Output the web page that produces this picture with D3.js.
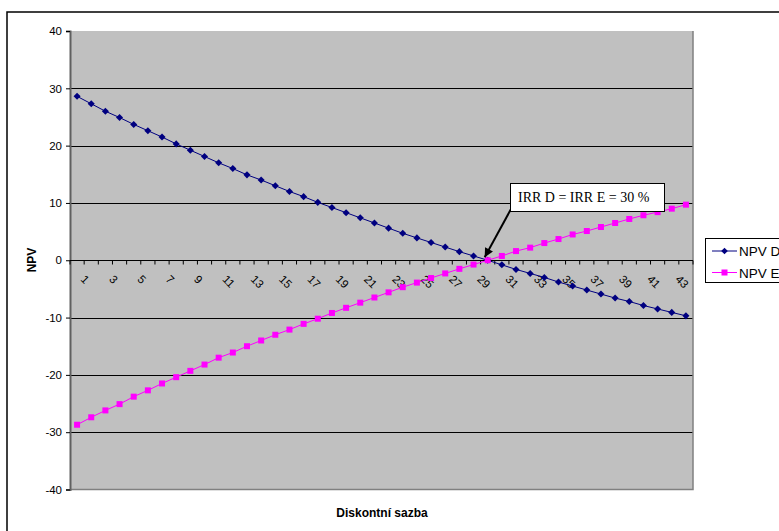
<!DOCTYPE html>
<html><head><meta charset="utf-8">
<script src="https://cdn.jsdelivr.net/npm/d3@7"></script>
<style>body{margin:0;background:#fff}svg{display:block}</style>
</head><body>
<script>
const rates = d3.range(1, 45);
const npvD = [28.6,27.3,26.0,24.9,23.7,22.6,21.5,20.3,19.2,18.1,17.0,16.0,14.9,14.0,13.0,12.0,11.1,10.1,9.2,8.3,7.4,6.5,5.6,4.7,3.9,3.1,2.3,1.5,0.75,0.0,-0.8,-1.6,-2.3,-3.0,-3.8,-4.5,-5.2,-5.9,-6.6,-7.2,-7.9,-8.5,-9.1,-9.7];
const npvE = [-28.7,-27.4,-26.2,-25.1,-23.8,-22.7,-21.5,-20.4,-19.3,-18.2,-17.0,-16.1,-15.0,-14.0,-13.0,-12.1,-11.1,-10.2,-9.2,-8.3,-7.4,-6.5,-5.6,-4.7,-3.9,-3.1,-2.3,-1.5,-0.75,0.0,0.75,1.6,2.2,3.0,3.7,4.5,5.1,5.8,6.5,7.2,7.85,8.4,9.0,9.7];
const yTicks = [-40,-30,-20,-10,0,10,20,30,40];
const seriesNames = ["NPV D","NPV E"];
const xTitle = "Diskontní sazba";
const yTitle = "NPV";
const annotation = "IRR D = IRR E = 30 %";
const irrRate = 30;

const W = 779, H = 531;
const svg = d3.select("body").append("svg").attr("width", W).attr("height", H);

// outer chart border
svg.append("rect").attr("x", 7).attr("y", 12).attr("width", 800).attr("height", 560)
  .attr("fill", "#fff").attr("stroke", "#000").attr("stroke-width", 1.5);

const L = 70, R = 693, T = 31, B = 489.5;
const x = d3.scaleBand().domain(rates).range([L, R]).padding(0);
const cx = d => x(d) + x.bandwidth() / 2;
const y = d3.scaleLinear().domain([-40, 40]).range([B, T]);

// plot area
svg.append("rect").attr("x", L).attr("y", T).attr("width", R - L).attr("height", B - T).attr("fill", "#C0C0C0");

// gridlines
svg.append("g").selectAll("line").data(yTicks.filter(v => v !== -40 && v !== 40 && v !== 0)).join("line")
  .attr("x1", L).attr("x2", R).attr("y1", d => Math.round(y(d)) + 0.5).attr("y2", d => Math.round(y(d)) + 0.5)
  .attr("stroke", "#000").attr("stroke-width", 1);

// plot border right/bottom
svg.append("path").attr("d", `M${L},${B}H${R}V${T}`).attr("fill", "none").attr("stroke", "#808080").attr("stroke-width", 1.5);

// y axis
const yAxis = d3.axisLeft(y).tickValues(yTicks).tickSize(4).tickPadding(4).tickFormat(d => String(d));
const gy = svg.append("g").attr("transform", `translate(${L},0)`).call(yAxis);
gy.select(".domain").attr("stroke", "#606060").attr("stroke-width", 2);
gy.selectAll(".tick line").attr("stroke", "#000");
gy.selectAll("text").attr("font-family", "Arial, 'Liberation Sans', sans-serif").attr("font-size", 11.5).attr("fill", "#000");

// x axis at zero
const y0 = Math.round(y(0)) + 0.5;
svg.append("line").attr("x1", L).attr("x2", R).attr("y1", y0).attr("y2", y0).attr("stroke", "#000").attr("stroke-width", 1);
svg.append("g").selectAll("line").data(d3.range(0, rates.length + 1)).join("line")
  .attr("x1", i => L + i * x.bandwidth()).attr("x2", i => L + i * x.bandwidth())
  .attr("y1", y0).attr("y2", y0 + 4).attr("stroke", "#000");
svg.append("g").selectAll("text").data(rates.filter(r => r % 2 === 1)).join("text")
  .attr("transform", d => `translate(${cx(d) + 3},${280}) rotate(45)`)
  .attr("font-family", "Arial, 'Liberation Sans', sans-serif").attr("font-size", 11.5)
  .attr("text-anchor", "start").text(d => d);

// series
const line = d3.line().x((d, i) => cx(rates[i])).y(d => y(d));
svg.append("path").datum(npvD).attr("d", line).attr("fill", "none").attr("stroke", "#000080").attr("stroke-width", 1);
svg.append("path").datum(npvE).attr("d", line).attr("fill", "none").attr("stroke", "#FF00FF").attr("stroke-width", 1);
svg.append("g").selectAll("path").data(npvD).join("path")
  .attr("d", d3.symbol().type(d3.symbolSquare).size(25))
  .attr("transform", (d, i) => `translate(${cx(rates[i])},${y(d)}) rotate(45)`)
  .attr("fill", "#000080");
svg.append("g").selectAll("rect").data(npvE).join("rect")
  .attr("x", (d, i) => cx(rates[i]) - 3).attr("y", d => y(d) - 3).attr("width", 6).attr("height", 6)
  .attr("fill", "#FF00FF");

// annotation
const tipX = cx(irrRate) - 3, tipY = y(0) - 3;
const sx = 511, sy = 209;
svg.append("defs").append("marker").attr("id", "ah").attr("viewBox", "0 0 10 10").attr("refX", 10).attr("refY", 5)
  .attr("markerWidth", 10).attr("markerHeight", 9).attr("markerUnits", "userSpaceOnUse").attr("orient", "auto")
  .append("path").attr("d", "M0,0L10,5L0,10Z").attr("fill", "#000");
svg.append("line").attr("x1", sx).attr("y1", sy).attr("x2", tipX).attr("y2", tipY)
  .attr("stroke", "#000").attr("stroke-width", 2).attr("marker-end", "url(#ah)");
svg.append("rect").attr("x", 510.5).attr("y", 183.5).attr("width", 154).attr("height", 28)
  .attr("fill", "#fff").attr("stroke", "#000").attr("stroke-width", 1);
svg.append("text").attr("x", 518).attr("y", 201.5).attr("text-anchor", "start")
  .attr("font-family", "'Liberation Serif', 'Times New Roman', serif").attr("font-size", 14).text(annotation);

// axis titles
svg.append("text").attr("x", 382).attr("y", 517).attr("text-anchor", "middle")
  .attr("font-family", "Arial, 'Liberation Sans', sans-serif").attr("font-size", 12).attr("font-weight", "bold").text(xTitle);
svg.append("text").attr("transform", `translate(36,260) rotate(-90)`).attr("text-anchor", "middle")
  .attr("font-family", "Arial, 'Liberation Sans', sans-serif").attr("font-size", 12).attr("font-weight", "bold").text(yTitle);

// legend
const lg = svg.append("g");
lg.append("rect").attr("x", 705.5).attr("y", 238.5).attr("width", 100).attr("height", 44)
  .attr("fill", "#fff").attr("stroke", "#000").attr("stroke-width", 1);
const colors = ["#000080", "#FF00FF"];
seriesNames.forEach((n, i) => {
  const ly = 251 + i * 21.5;
  lg.append("line").attr("x1", 712).attr("x2", 737).attr("y1", ly).attr("y2", ly).attr("stroke", colors[i]);
  if (i === 0) lg.append("path").attr("d", d3.symbol().type(d3.symbolSquare).size(22)).attr("transform", `translate(724.5,${ly}) rotate(45)`).attr("fill", colors[i]);
  else lg.append("rect").attr("x", 721.5).attr("y", ly - 3).attr("width", 6).attr("height", 6).attr("fill", colors[i]);
  lg.append("text").attr("x", 739).attr("y", ly + 5).attr("font-family", "Arial, 'Liberation Sans', sans-serif")
    .attr("font-size", 13.5).text(n);
});
</script>
</body></html>
